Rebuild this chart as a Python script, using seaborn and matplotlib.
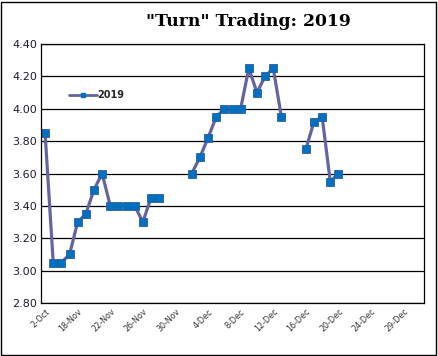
import numpy as np
import pandas as pd
import matplotlib
matplotlib.use('Agg')
import matplotlib.pyplot as plt
from matplotlib.lines import Line2D
from matplotlib.patches import Rectangle
import seaborn as sns

# --- data (one category per trading day, Excel-style text axis) ---
dates = ['2-Oct',
         '15-Nov', '16-Nov', '17-Nov', '18-Nov', '19-Nov', '20-Nov', '21-Nov', '22-Nov',
         '23-Nov', '24-Nov', '25-Nov', '26-Nov', '27-Nov', '28-Nov', '29-Nov', '30-Nov',
         '1-Dec', '2-Dec', '3-Dec', '4-Dec', '5-Dec', '6-Dec', '7-Dec', '8-Dec',
         '9-Dec', '10-Dec', '11-Dec', '12-Dec', '13-Dec', '14-Dec', '15-Dec', '16-Dec',
         '17-Dec', '18-Dec', '19-Dec', '20-Dec', '21-Dec', '22-Dec', '23-Dec', '24-Dec',
         '26-Dec', '27-Dec', '28-Dec', '29-Dec', '30-Dec', '31-Dec']
prices = [3.85,
          3.05, 3.05, 3.10, 3.30, 3.35, 3.50, 3.60, 3.40,
          3.40, 3.40, 3.40, 3.30, 3.45, 3.45, np.nan, np.nan,
          np.nan, 3.60, 3.70, 3.82, 3.95, 4.00, 4.00, 4.00,
          4.25, 4.10, 4.20, 4.25, 3.95, np.nan, np.nan, 3.75,
          3.92, 3.95, 3.55, 3.60, np.nan, np.nan, np.nan, np.nan,
          np.nan, np.nan, np.nan, np.nan, np.nan, np.nan]
series_name = '2019'
y_ticks = [2.80, 3.00, 3.20, 3.40, 3.60, 3.80, 4.00, 4.20, 4.40]

df = pd.DataFrame({'idx': np.arange(len(dates)), 'date': dates, 'price': prices})
# break the line where there is no price
df['seg'] = df['price'].isna().cumsum()
df_plot = df.dropna()

LINE_COL = '#6464A0'
MARK_COL = '#0070C0'

sns.set_style('white')
fig = plt.figure(figsize=(4.38, 3.56), dpi=100)
ax = fig.add_axes([41 / 438, 1 - 303 / 356, 383 / 438, 259 / 356])

sns.lineplot(data=df_plot, x='idx', y='price', units='seg', estimator=None,
             color=LINE_COL, lw=2.3, marker='s', markersize=5.6,
             markerfacecolor=MARK_COL, markeredgecolor='#2E5C9E', markeredgewidth=0.6,
             ax=ax, legend=False)

ax.set_xlim(-0.5, len(dates) - 0.5)
ax.set_ylim(2.80, 4.40)
ax.set_yticks(y_ticks)
ax.set_yticklabels([f'{v:.2f}' for v in y_ticks], fontsize=8, family='DejaVu Sans',
                   color='#1a1a2e')
tick_pos = list(range(0, len(dates), 4))
ax.set_xticks(tick_pos)
ax.set_xticklabels([dates[i] for i in tick_pos], rotation=45, ha='right',
                   rotation_mode='anchor', fontsize=5.8, family='DejaVu Sans', color='#333333')
ax.tick_params(axis='both', length=0, pad=3)
ax.set_xlabel('')
ax.set_ylabel('')
ax.grid(axis='y', color='black', lw=0.9)
ax.grid(axis='x', visible=False)
for sp in ax.spines.values():
    sp.set_color('black')
    sp.set_linewidth(0.9)

fig.text(248 / 438, 1 - 22 / 356, '"Turn" Trading: 2019', ha='center', va='center',
         fontsize=12.4, fontweight='bold', family='DejaVu Serif', color='black')

handle = Line2D([], [], color=LINE_COL, lw=2, marker='s', markersize=3.2,
                markerfacecolor=MARK_COL, markeredgecolor=MARK_COL)
ax.legend([handle], [series_name], loc='center left', bbox_to_anchor=(0.074, 1 - (95 - 44) / 259),
          frameon=False, handlelength=2.8, handletextpad=0.1, borderpad=0, borderaxespad=0,
          prop={'family': 'DejaVu Sans', 'weight': 'bold', 'size': 7})

fig.patches.append(Rectangle((1 / 438, 1 / 356), 435 / 438, 353 / 356,
                             transform=fig.transFigure, fill=False,
                             edgecolor='black', lw=1))

fig.savefig('out.png', dpi=100)
